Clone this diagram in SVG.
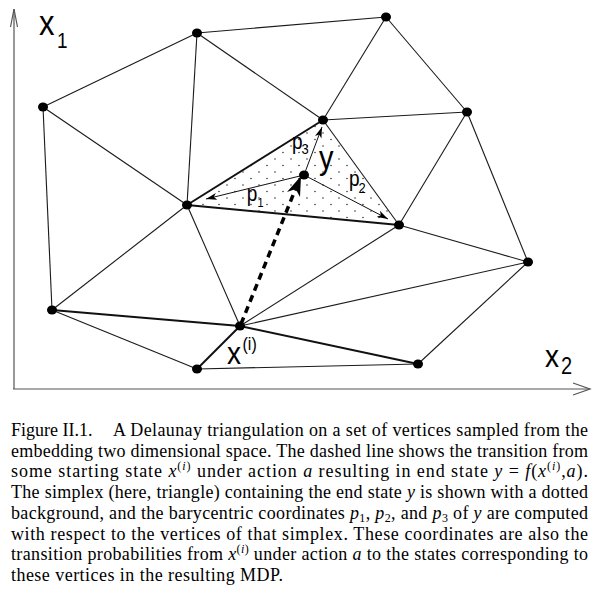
<svg xmlns="http://www.w3.org/2000/svg" width="595" height="592" viewBox="0 0 595 592">
<style>
.e{stroke:#1a1a1a;stroke-width:1.1;fill:none}
.eb{stroke:#111;stroke-width:2;fill:none}
.ax{stroke:#555;stroke-width:1.2;fill:none}
.v{fill:#000}
.thin{stroke:#111;stroke-width:1;fill:none;marker-end:url(#ah)}
.lbl{font-family:"Liberation Sans",Arial,sans-serif;fill:#000}
.cap{font-family:"Liberation Serif","Times New Roman",serif;font-size:18px;fill:#000}
.it{font-style:italic}
</style>
<defs>
<pattern id="dots" patternUnits="userSpaceOnUse" width="16" height="13">
<circle cx="3" cy="3" r="0.75" fill="#222"/>
<circle cx="11" cy="9.5" r="0.75" fill="#222"/>
</pattern>
<marker id="ah" markerUnits="userSpaceOnUse" markerWidth="11" markerHeight="8" viewBox="0 0 11 8" refX="11" refY="4" orient="auto">
<path d="M0,0.5 L11,4 L0,7.5 L3,4 z" fill="#000"/>
</marker>
</defs>
<rect width="595" height="592" fill="#fff"/>

<g id="axes">
<line class="ax" x1="14" y1="389" x2="14" y2="9"/>
<polyline class="ax" points="10.5,27 14,9 17.5,27"/>
<line class="ax" x1="13" y1="389" x2="590" y2="389"/>
<polyline class="ax" points="573,383 590,389 573,395"/>
</g>

<polygon id="simplex" points="187,205 323,120 399,225" fill="url(#dots)"/>

<g id="connectors">
<line class="e" x1="197" y1="33" x2="386" y2="17"/>
<line class="e" x1="197" y1="33" x2="43" y2="107"/>
<line class="e" x1="197" y1="33" x2="187" y2="205"/>
<line class="e" x1="197" y1="33" x2="323" y2="120"/>
<line class="e" x1="43" y1="107" x2="187" y2="205"/>
<line class="e" x1="43" y1="107" x2="52" y2="310"/>
<line class="e" x1="386" y1="17" x2="323" y2="120"/>
<line class="e" x1="386" y1="17" x2="467" y2="112"/>
<line class="e" x1="323" y1="120" x2="467" y2="112"/>
<line class="eb" x1="323" y1="120" x2="187" y2="205"/>
<line class="e" x1="323" y1="120" x2="399" y2="225"/>
<line class="eb" x1="187" y1="205" x2="399" y2="225"/>
<line class="e" x1="467" y1="112" x2="399" y2="225"/>
<line class="e" x1="467" y1="112" x2="528" y2="262"/>
<line class="e" x1="187" y1="205" x2="52" y2="310"/>
<line class="e" x1="187" y1="205" x2="240" y2="326"/>
<line class="eb" x1="52" y1="310" x2="240" y2="326"/>
<line class="e" x1="52" y1="310" x2="197" y2="369"/>
<line class="eb" x1="240" y1="326" x2="197" y2="369"/>
<line class="e" x1="197" y1="369" x2="418" y2="364"/>
<line class="eb" x1="240" y1="326" x2="418" y2="364"/>
<line class="e" x1="240" y1="326" x2="399" y2="225"/>
<line class="e" x1="240" y1="326" x2="528" y2="262"/>
<line class="e" x1="399" y1="225" x2="528" y2="262"/>
<line class="e" x1="528" y1="262" x2="418" y2="364"/>
<line class="thin" x1="304" y1="175" x2="206" y2="199"/>
<line class="thin" x1="304" y1="175" x2="388" y2="219"/>
<line class="thin" x1="304" y1="175" x2="322" y2="127"/>
<line x1="241" y1="324" x2="295.5" y2="189" stroke="#000" stroke-width="3.5" stroke-dasharray="7 5"/>
<polygon points="301,176 300,197 295.7,189 287,192" fill="#000"/>
</g>

<g id="nA"><ellipse class="v" cx="197" cy="33" rx="5" ry="4.5"/></g>
<g id="nB"><ellipse class="v" cx="43" cy="107" rx="5" ry="4.5"/></g>
<g id="nC"><ellipse class="v" cx="386" cy="17" rx="5" ry="4.5"/></g>
<g id="nD"><ellipse class="v" cx="323" cy="120" rx="5" ry="4.5"/></g>
<g id="nE"><ellipse class="v" cx="467" cy="112" rx="5" ry="4.5"/></g>
<g id="nF"><ellipse class="v" cx="187" cy="205" rx="5" ry="4.5"/></g>
<g id="nG"><ellipse class="v" cx="52" cy="310" rx="5" ry="4.5"/></g>
<g id="nH"><ellipse class="v" cx="240" cy="326" rx="5" ry="4.5"/></g>
<g id="nI"><ellipse class="v" cx="197" cy="369" rx="5" ry="4.5"/></g>
<g id="nJ"><ellipse class="v" cx="399" cy="225" rx="5" ry="4.5"/></g>
<g id="nK"><ellipse class="v" cx="528" cy="262" rx="5" ry="4.5"/></g>
<g id="nL"><ellipse class="v" cx="418" cy="364" rx="5" ry="4.5"/></g>
<g id="nY"><ellipse class="v" cx="304" cy="175" rx="5" ry="4.5"/></g>

<g id="labels">
<text class="lbl" font-size="31" transform="translate(39,35) scale(1,1.15)">x</text>
<text class="lbl" font-size="19" transform="translate(57,47.6) scale(1,1.15)">1</text>
<text class="lbl" font-size="28" transform="translate(545,366.7) scale(1,1.15)">x</text>
<text class="lbl" font-size="20" transform="translate(561,373.5) scale(1,1.15)">2</text>
<text class="lbl" font-size="28" transform="translate(227,363.7) scale(1,1.15)">x</text>
<text class="lbl" font-size="16" transform="translate(242.5,350.4) scale(1,1.15)">(i)</text>
<text class="lbl" font-size="29" transform="translate(319,169.3) scale(1,1.15)">y</text>
<text class="lbl" font-size="19" transform="translate(246.7,201.3) scale(1,1.15)">p</text>
<text class="lbl" font-size="11" transform="translate(257.5,207) scale(1,1.15)">1</text>
<text class="lbl" font-size="19" transform="translate(349,186.3) scale(1,1.15)">p</text>
<text class="lbl" font-size="13" transform="translate(358.5,193) scale(1,1.15)">2</text>
<text class="lbl" font-size="19" transform="translate(292,149) scale(1,1.15)">p</text>
<text class="lbl" font-size="13" transform="translate(301.5,154) scale(1,1.15)">3</text>
</g>

<g id="caption">
<text class="cap" x="11" y="436">Figure II.1.</text>
<text class="cap" x="113" y="436" textLength="475" lengthAdjust="spacing">A Delaunay triangulation on a set of vertices sampled from the</text>
<text class="cap" x="11" y="456.7" textLength="577" lengthAdjust="spacing">embedding two dimensional space. The dashed line shows the transition from</text>
<text class="cap" x="11" y="477.4" textLength="577" lengthAdjust="spacing">some starting state <tspan class="it">x</tspan><tspan dy="-7" font-size="12">(<tspan class="it">i</tspan>)</tspan><tspan dy="7"> under action </tspan><tspan class="it">a</tspan> resulting in end state <tspan class="it">y</tspan> = <tspan class="it">f</tspan>(<tspan class="it">x</tspan><tspan dy="-7" font-size="12">(<tspan class="it">i</tspan>)</tspan><tspan dy="7">,</tspan><tspan class="it">a</tspan>).</text>
<text class="cap" x="11" y="498.1" textLength="577" lengthAdjust="spacing">The simplex (here, triangle) containing the end state <tspan class="it">y</tspan> is shown with a dotted</text>
<text class="cap" x="11" y="518.8" textLength="577" lengthAdjust="spacing">background, and the barycentric coordinates <tspan class="it">p</tspan><tspan dy="3" font-size="12">1</tspan><tspan dy="-3">, </tspan><tspan class="it">p</tspan><tspan dy="3" font-size="12">2</tspan><tspan dy="-3">, and </tspan><tspan class="it">p</tspan><tspan dy="3" font-size="12">3</tspan><tspan dy="-3"> of </tspan><tspan class="it">y</tspan> are computed</text>
<text class="cap" x="11" y="539.5" textLength="577" lengthAdjust="spacing">with respect to the vertices of that simplex. These coordinates are also the</text>
<text class="cap" x="11" y="560.2" textLength="577" lengthAdjust="spacing">transition probabilities from <tspan class="it">x</tspan><tspan dy="-7" font-size="12">(<tspan class="it">i</tspan>)</tspan><tspan dy="7"> under action </tspan><tspan class="it">a</tspan> to the states corresponding to</text>
<text class="cap" x="11" y="580.9" textLength="272" lengthAdjust="spacing">these vertices in the resulting MDP.</text>
</g>
</svg>
